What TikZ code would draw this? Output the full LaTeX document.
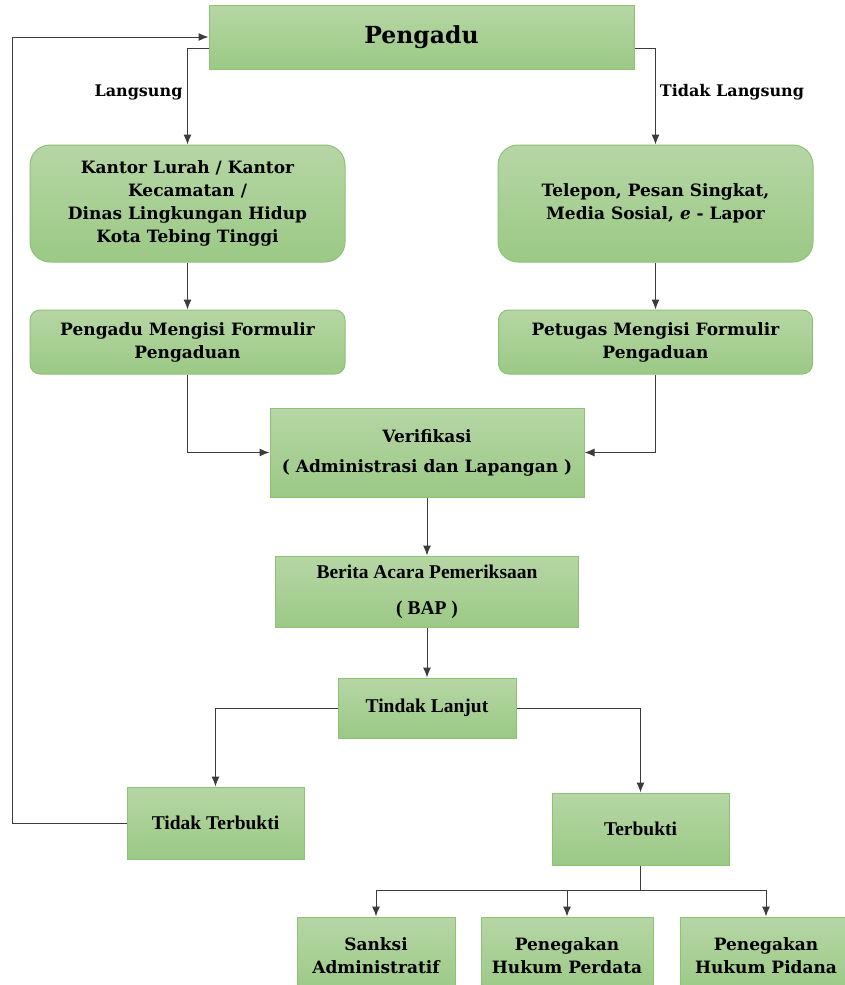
\documentclass[tikz,border=0pt]{standalone}
\usepackage{fontspec}
\setmainfont{DejaVu Serif}
\newfontfamily\timesfont{Liberation Serif}
\usetikzlibrary{arrows.meta}
\pgfdeclarelayer{edgelayer}
\pgfdeclarelayer{nodelayer}
\pgfsetlayers{edgelayer,nodelayer,main}
\definecolor{boxtop}{RGB}{182,214,165}
\definecolor{boxbot}{RGB}{155,201,133}
\definecolor{boxline}{RGB}{141,194,117}
\definecolor{linegray}{RGB}{60,60,60}
\tikzset{font=\bfseries\fontsize{17}{23}\selectfont}
\tikzstyle{none}=[inner sep=0pt]
\tikzstyle{box}=[draw=boxline,line width=1pt,top color=boxtop,bottom color=boxbot,inner sep=0pt,align=center]
\tikzstyle{rbox}=[box,rounded corners=20pt]
\tikzstyle{sbox}=[box,rounded corners=10pt]
\tikzstyle{tbox}=[box,font=\timesfont\bfseries\fontsize{19.5}{36}\selectfont]
\tikzstyle{lbl}=[inner sep=0pt,font=\bfseries\fontsize{16}{20}\selectfont]
\tikzstyle{flow}=[draw=linegray,line width=1pt,-{Latex[length=10pt,width=8pt]}]
\tikzstyle{line}=[draw=linegray,line width=1pt]

\begin{document}
\begin{tikzpicture}[x=1pt,y=-1pt]
	\useasboundingbox (0,0) rectangle (845,985);
	\begin{pgfonlayer}{nodelayer}
		\node [style=box, minimum width=425, minimum height=64, font=\bfseries\fontsize{23.5}{26}\selectfont] (0) at (421.5, 37) {Pengadu};
		\node [style=rbox, minimum width=315, minimum height=117] (1) at (187.5, 203.5) {Kantor Lurah / Kantor\\Kecamatan /\\Dinas Lingkungan Hidup\\Kota Tebing Tinggi};
		\node [style=rbox, minimum width=315, minimum height=117] (2) at (655.5, 203.5) {Telepon, Pesan Singkat,\\Media Sosial, \textit{e} - Lapor};
		\node [style=sbox, minimum width=315, minimum height=64] (3) at (187.5, 342) {Pengadu Mengisi Formulir\\Pengaduan};
		\node [style=sbox, minimum width=314, minimum height=64] (4) at (655.5, 342) {Petugas Mengisi Formulir\\Pengaduan};
		\node [style=box, minimum width=314, minimum height=89] (5) at (427, 452.5) {Verifikasi\\[7pt]( Administrasi dan Lapangan )};
		\node [style=tbox, minimum width=303, minimum height=71] (6) at (427, 591.5) {Berita Acara Pemeriksaan\\( BAP )};
		\node [style=tbox, minimum width=178, minimum height=60] (7) at (427, 708) {Tindak Lanjut};
		\node [style=tbox, minimum width=177, minimum height=72] (8) at (215.5, 823) {Tidak Terbukti};
		\node [style=tbox, minimum width=177, minimum height=72] (9) at (640.5, 829) {Terbukti};
		\node [style=box, minimum width=158, minimum height=78] (10) at (376, 956) {Sanksi\\Administratif};
		\node [style=box, minimum width=172, minimum height=78] (11) at (567, 956) {Penegakan\\Hukum Perdata};
		\node [style=box, minimum width=172, minimum height=78] (12) at (766, 956) {Penegakan\\Hukum Pidana};
		\node [style=none] (13) at (12, 823) {};
		\node [style=none] (14) at (12, 37) {};
		\node [style=none] (15) at (209, 48) {};
		\node [style=none] (16) at (187.5, 48) {};
		\node [style=none] (17) at (634, 48) {};
		\node [style=none] (18) at (655.5, 48) {};
		\node [style=none] (19) at (640.5, 890) {};
		\node [style=lbl] (20) at (138.5, 92) {Langsung};
		\node [style=lbl] (21) at (732, 92) {Tidak Langsung};
	\end{pgfonlayer}
	\begin{pgfonlayer}{edgelayer}
		\draw [style=flow] (8.west) to (13.center) to (14.center) to (0.west);
		\draw [style=flow] (15.center) to (16.center) to (1);
		\draw [style=flow] (17.center) to (18.center) to (2);
		\draw [style=flow] (1) to (3);
		\draw [style=flow] (2) to (4);
		\draw [style=flow] (3) |- (5);
		\draw [style=flow] (4) |- (5);
		\draw [style=flow] (5) to (6);
		\draw [style=flow] (6) to (7);
		\draw [style=flow] (7) -| (8);
		\draw [style=flow] (7) -| (9);
		\draw [style=line] (9) to (19.center);
		\draw [style=flow] (19.center) -| (10);
		\draw [style=flow] (19.center) -| (11);
		\draw [style=flow] (19.center) -| (12);
	\end{pgfonlayer}
\end{tikzpicture}
\end{document}
